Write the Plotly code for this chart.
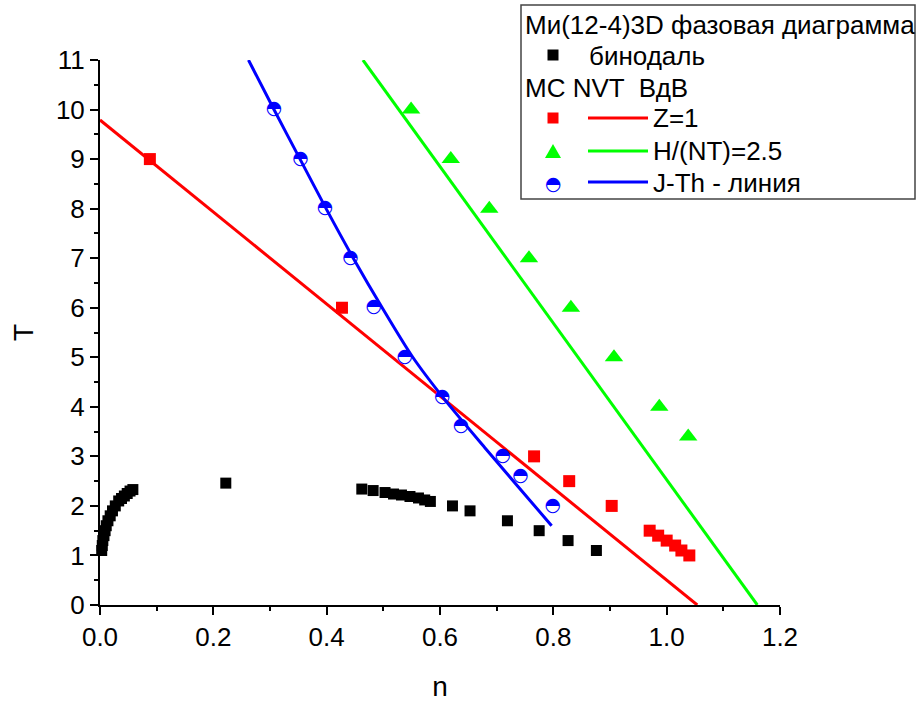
import plotly.graph_objects as go

# ---------------- data ----------------
# binodal (black squares)
bin_n = [0.003, 0.004, 0.005, 0.007, 0.009, 0.011, 0.014, 0.018, 0.022, 0.027,
         0.033, 0.038, 0.043, 0.048, 0.053, 0.058,
         0.222, 0.462, 0.482, 0.503, 0.518, 0.532, 0.547, 0.562, 0.573, 0.583,
         0.622, 0.653, 0.719, 0.775, 0.826, 0.876]
bin_T = [1.1, 1.2, 1.3, 1.4, 1.5, 1.6, 1.7, 1.8, 1.9, 2.0,
         2.1, 2.15, 2.2, 2.25, 2.3, 2.33,
         2.46, 2.34, 2.31, 2.27, 2.24, 2.22, 2.19, 2.16, 2.12, 2.09,
         2.0, 1.9, 1.7, 1.5, 1.3, 1.1]

# MC NVT, Z=1 (red squares) and VdW line
z1_n = [0.088, 0.427, 0.766, 0.828, 0.903, 0.970, 0.985, 1.000, 1.015, 1.026, 1.040]
z1_T = [9.0, 6.0, 3.0, 2.5, 2.0, 1.5, 1.4, 1.3, 1.2, 1.1, 1.0]
z1_line_n = [0.0, 1.054]
z1_line_T = [9.79, 0.0]

# H/(NT)=2.5 (green triangles) and VdW line
h_n = [0.549, 0.619, 0.687, 0.757, 0.831, 0.907, 0.987, 1.038]
h_T = [10.0, 9.0, 8.0, 7.0, 6.0, 5.0, 4.0, 3.4]
h_line_n = [0.464, 1.160]
h_line_T = [11.0, 0.0]

# Joule-Thomson line (blue half circles) and VdW curve
jt_n = [0.307, 0.354, 0.397, 0.442, 0.483, 0.538, 0.604, 0.637, 0.711, 0.742, 0.799]
jt_T = [10.0, 9.0, 8.0, 7.0, 6.0, 5.0, 4.2, 3.6, 3.0, 2.6, 2.0]
jt_line_n = [0.262, 0.307, 0.353, 0.399, 0.447, 0.498, 0.552, 0.608, 0.681, 0.758, 0.797]
jt_line_T = [11.0, 10.0, 9.0, 8.0, 7.0, 6.0, 5.0, 4.15, 3.15, 2.12, 1.6]

# tick labels
x_ticks = [0.0, 0.2, 0.4, 0.6, 0.8, 1.0, 1.2]
x_tick_text = ["0.0", "0.2", "0.4", "0.6", "0.8", "1.0", "1.2"]
y_ticks = list(range(0, 12))

legend_title = "Ми(12-4)3D фазовая диаграмма"
legend_bin = "бинодаль"
legend_sub = "MC NVT \u00a0ВдВ"
legend_z1 = "Z=1"
legend_h = "H/(NT)=2.5"
legend_jt = "J-Th - линия"

# ---------------- layout geometry ----------------
W, H = 923, 702
ML, MR, MT, MB = 100, 143, 60, 97
PW, PH = W - ML - MR, H - MT - MB

def px(x):
    return (x - ML) / PW

def py(y):
    return (H - MB - y) / PH

FONT = "Liberation Sans, Arial, sans-serif"
RED, GREEN, BLUE = "#FF0000", "#00FF00", "#0000FF"

fig = go.Figure()

fig.add_trace(go.Scatter(x=z1_line_n, y=z1_line_T, mode="lines",
                         line=dict(color=RED, width=3), showlegend=False))
fig.add_trace(go.Scatter(x=h_line_n, y=h_line_T, mode="lines",
                         line=dict(color=GREEN, width=3), showlegend=False))
fig.add_trace(go.Scatter(x=jt_line_n, y=jt_line_T, mode="lines",
                         line=dict(color=BLUE, width=3, shape="spline", smoothing=0.8),
                         showlegend=False))

fig.add_trace(go.Scatter(x=bin_n, y=bin_T, mode="markers",
                         marker=dict(symbol="square", size=11, color="black"),
                         showlegend=False, cliponaxis=False))
fig.add_trace(go.Scatter(x=z1_n, y=z1_T, mode="markers",
                         marker=dict(symbol="square", size=12, color=RED),
                         showlegend=False, cliponaxis=False))
fig.add_trace(go.Scatter(x=h_n, y=h_T, mode="markers",
                         marker=dict(symbol="triangle-up", size=16, color=GREEN),
                         showlegend=False, cliponaxis=False))
fig.add_trace(go.Scatter(x=jt_n, y=jt_T, mode="text", text=["\u25d3"] * len(jt_n),
                         textposition="middle center",
                         textfont=dict(family="DejaVu Sans", size=19, color=BLUE),
                         showlegend=False, cliponaxis=False))

fig.update_layout(
    width=W, height=H,
    margin=dict(l=ML, r=MR, t=MT, b=MB, autoexpand=False),
    paper_bgcolor="white", plot_bgcolor="white",
    font=dict(family=FONT, color="black"),
    showlegend=False,
)

axis_common = dict(
    showline=True, linecolor="black", linewidth=2,
    showgrid=False, zeroline=False,
    ticks="outside", ticklen=8, tickwidth=2, tickcolor="black",
    tickfont=dict(family=FONT, size=26, color="black"),
    mirror=False, automargin=False,
)

fig.update_xaxes(
    range=[0, 1.2], tickvals=x_ticks, ticktext=x_tick_text,
    minor=dict(dtick=0.1, ticklen=4, tickwidth=2, tickcolor="black", ticks="outside"),
    title=dict(text="n", font=dict(family=FONT, size=28), standoff=28),
    **axis_common,
)
fig.update_yaxes(
    range=[0, 11], tickvals=y_ticks,
    minor=dict(dtick=0.5, ticklen=4, tickwidth=2, tickcolor="black", ticks="outside"),
    title=dict(text="T", font=dict(family=FONT, size=28), standoff=14),
    **axis_common,
)

# ---------------- custom legend (Origin style) ----------------
shapes = []
annots = []
shapes.append(dict(type="rect", xref="paper", yref="paper",
                   x0=px(521), x1=px(915), y0=py(199), y1=py(5),
                   line=dict(color="#444444", width=1.5), fillcolor="white", layer="above"))

def text_at(x, y, s, size=26, color="black", family=FONT):
    annots.append(dict(xref="paper", yref="paper", x=px(x), y=py(y), text=s,
                       showarrow=False, xanchor="left", yanchor="middle",
                       font=dict(family=family, size=size, color=color)))

text_at(523, 25, legend_title)
text_at(587, 56, legend_bin)
text_at(523, 88, legend_sub)
text_at(651, 118, legend_z1)
text_at(651, 151, legend_h)
text_at(651, 183, legend_jt)

# legend keys
def sq(cx, cy, s, color):
    shapes.append(dict(type="rect", xref="paper", yref="paper",
                       x0=px(cx - s / 2), x1=px(cx + s / 2), y0=py(cy + s / 2), y1=py(cy - s / 2),
                       line=dict(width=0), fillcolor=color, layer="above"))

sq(553, 55, 11, "black")
sq(553, 118, 11, RED)
tx0, tx1, txm = px(545), px(561), px(553)
ty0, ty1 = py(158), py(144)
shapes.append(dict(type="path", xref="paper", yref="paper",
                   path=f"M {tx0} {ty0} L {tx1} {ty0} L {txm} {ty1} Z",
                   line=dict(width=0), fillcolor=GREEN, layer="above"))
annots.append(dict(xref="paper", yref="paper", x=px(553), y=py(183), text="\u25d3",
                   showarrow=False, xanchor="center", yanchor="middle",
                   font=dict(family="DejaVu Sans", size=19, color=BLUE)))

for yy, col in [(118, RED), (151, GREEN), (182, BLUE)]:
    shapes.append(dict(type="line", xref="paper", yref="paper",
                       x0=px(588), x1=px(648), y0=py(yy), y1=py(yy),
                       line=dict(color=col, width=3), layer="above"))

fig.update_layout(shapes=shapes, annotations=annots)

fig.write_html("out.html")
